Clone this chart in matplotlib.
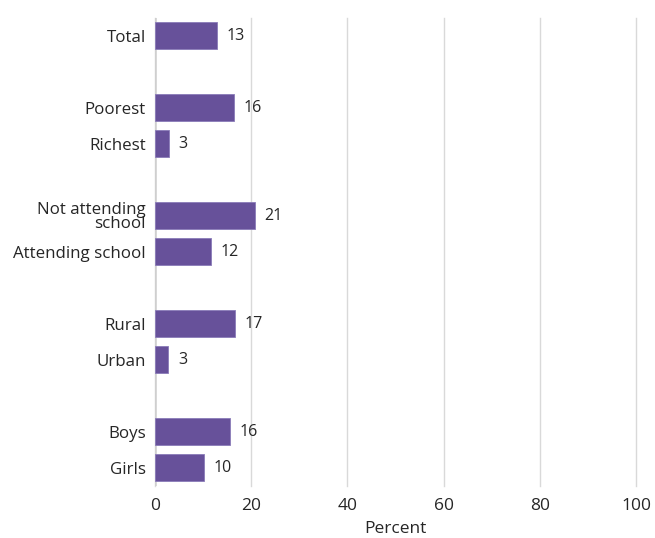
import numpy as np
import matplotlib.pyplot as plt

plt.rcParams['font.family'] = ['Open Sans', 'DejaVu Sans']

# data
categories = ["Total", "Poorest", "Richest", "Not attending\nschool", "Attending school",
              "Rural", "Urban", "Boys", "Girls"]
values = [12.9, 16.4, 2.9, 20.8, 11.7, 16.6, 2.8, 15.5, 10.2]
labels = ["13", "16", "3", "21", "12", "17", "3", "16", "10"]
slots = [0, 2, 3, 5, 6, 8, 9, 11, 12]

bar_color = "#67519a"
text_color = "#262626"

fig = plt.figure(figsize=(6.55, 5.38), dpi=100)
ax = fig.add_axes([0.2366, 0.0967, 0.7344, 0.8699])

ax.barh(slots, values, height=0.75, color=bar_color, edgecolor="#8a7bb8", linewidth=0.6, zorder=3)

for y, v, lab in zip(slots, values, labels):
    ax.annotate(lab, (v, y), xytext=(7, 0), textcoords="offset points",
                va="center", ha="left", fontsize=11.5, color=text_color)

ax.set_xlim(0, 100)
ax.set_ylim(12.5, -0.5)
ax.set_xticks([0, 20, 40, 60, 80, 100])
ax.set_yticks(slots)
ax.set_yticklabels(categories, linespacing=0.85)

ax.grid(axis="x", color="#d9d9d9", linewidth=1, zorder=0)
for gl in ax.get_xgridlines():
    gl.set_clip_on(False)
ax.axvline(0, color="#cfcfcf", linewidth=1.8, zorder=2)
for s in ax.spines.values():
    s.set_visible(False)
ax.tick_params(axis="both", length=0, colors=text_color)
ax.tick_params(axis="x", pad=9, labelsize=12.5)
ax.tick_params(axis="y", pad=6.5, labelsize=12.2)
ax.set_xlabel("Percent", fontsize=12.5, color=text_color, labelpad=5)

fig.savefig("out.png", dpi=100)
